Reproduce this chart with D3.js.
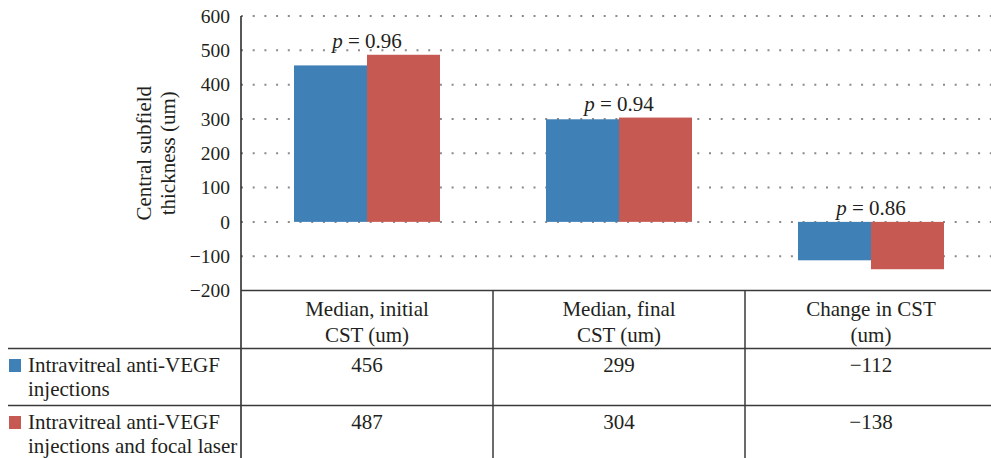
<!DOCTYPE html>
<html>
<head>
<meta charset="utf-8">
<script src="https://cdn.jsdelivr.net/npm/d3@7"></script>
<style>
  body { margin: 0; background: #fff; }
  text { font-family: "Liberation Serif", "DejaVu Serif", serif; fill: #231f20; }
</style>
</head>
<body>
<div id="chart"></div>
<script>
// Data
const categories = [["Median, initial", "CST (um)"], ["Median, final", "CST (um)"], ["Change in CST", "(um)"]];
const seriesNames = [["Intravitreal anti-VEGF", "injections"], ["Intravitreal anti-VEGF", "injections and focal laser"]];
const injections = [456, 299, -112];
const injectionsLaser = [487, 304, -138];
const pValues = ["0.96", "0.94", "0.86"];
const yTicks = [600, 500, 400, 300, 200, 100, 0, -100, -200];

const colors = ["#3f80b6", "#c65a52"];

const width = 991;
const height = 458;
const marginLeft = 241;
const marginTop = 16;
const axisBottom = 290.5;
const fontSize = 21;

const svg = d3.create("svg").attr("width", width).attr("height", height);

const keys = categories.map((d, i) => i);
const x = d3.scaleBand(keys, [marginLeft, marginLeft + 3 * 252]);
const xSub = d3.scaleBand([0, 1], [0, x.bandwidth()]).paddingOuter(0.726);
const y = d3.scaleLinear([-200, 600], [axisBottom, marginTop]);

// dotted gridlines
svg.append("g")
  .selectAll("line")
  .data(yTicks.filter(d => d > -200))
  .join("line")
  .attr("x1", marginLeft)
  .attr("x2", width)
  .attr("y1", d => y(d))
  .attr("y2", d => y(d))
  .attr("stroke", "#8a8a8a")
  .attr("stroke-width", 2)
  .attr("stroke-dasharray", "2,9.7");

// bars
const values = [injections, injectionsLaser];
const bars = [];
keys.forEach(i => values.forEach((s, j) => bars.push({ cat: i, s: j, v: s[i] })));

svg.append("g")
  .selectAll("rect")
  .data(bars)
  .join("rect")
  .attr("x", d => x(d.cat) + xSub(d.s))
  .attr("width", xSub.bandwidth())
  .attr("y", d => y(Math.max(0, d.v)))
  .attr("height", d => Math.abs(y(d.v) - y(0)))
  .attr("fill", d => colors[d.s]);

// p labels
const pl = svg.append("g")
  .selectAll("text")
  .data(keys)
  .join("text")
  .attr("x", d => x(d) + x.bandwidth() / 2)
  .attr("y", d => y(Math.max(0, injections[d], injectionsLaser[d])) - 7)
  .attr("text-anchor", "middle")
  .attr("font-size", fontSize);
pl.append("tspan").attr("font-style", "italic").text("p");
pl.append("tspan").text(d => " = " + pValues[d]);

// y axis
svg.append("g")
  .attr("transform", `translate(${marginLeft},0)`)
  .call(d3.axisLeft(y).tickValues(yTicks).tickSize(0).tickPadding(11)
    .tickFormat(d => d < 0 ? "\u2212" + Math.abs(d) : d))
  .call(g => g.select(".domain").remove())
  .call(g => g.selectAll("text")
    .attr("font-size", 19.5)
    .attr("font-family", "Liberation Serif, serif")
    .attr("fill", "#231f20"));

svg.append("line")
  .attr("x1", marginLeft).attr("x2", marginLeft)
  .attr("y1", marginTop).attr("y2", height)
  .attr("stroke", "#231f20").attr("stroke-width", 1.5);

// y axis title
svg.append("text")
  .attr("transform", `translate(151,${y(200)}) rotate(-90)`)
  .attr("text-anchor", "middle")
  .attr("font-size", fontSize)
  .selectAll("tspan")
  .data(["Central subfield", "thickness (um)"])
  .join("tspan")
  .attr("x", 0)
  .attr("dy", (d, i) => i === 0 ? 0 : 24)
  .text(d => d);

// table
const rowTop = [axisBottom, 348.5, 405.5];
const table = svg.append("g")
  .attr("stroke", "#3a3a3a")
  .attr("stroke-width", 1.5);
table.append("line").attr("x1", marginLeft).attr("x2", width).attr("y1", rowTop[0]).attr("y2", rowTop[0]);
table.selectAll(".hl")
  .data(rowTop.slice(1))
  .join("line")
  .attr("x1", 8).attr("x2", width)
  .attr("y1", d => d).attr("y2", d => d);
table.selectAll(".vl")
  .data(keys.slice(1))
  .join("line")
  .attr("x1", d => x(d)).attr("x2", d => x(d))
  .attr("y1", rowTop[0]).attr("y2", height);

// header cells
svg.append("g")
  .selectAll("text")
  .data(keys)
  .join("text")
  .attr("text-anchor", "middle")
  .attr("font-size", fontSize)
  .selectAll("tspan")
  .data(d => categories[d].map(t => ({ t, c: d })))
  .join("tspan")
  .attr("x", d => x(d.c) + x.bandwidth() / 2)
  .attr("y", (d, i) => 316 + i * 25.5)
  .text(d => d.t);

// series rows
seriesNames.forEach((name, j) => {
  const top = rowTop[j + 1];
  svg.append("rect")
    .attr("x", 9).attr("y", top + 10.5)
    .attr("width", 12).attr("height", 13)
    .attr("fill", colors[j]);
  svg.append("text")
    .attr("font-size", fontSize)
    .selectAll("tspan")
    .data(name)
    .join("tspan")
    .attr("x", 28)
    .attr("y", (d, i) => top + 23 + i * 24.5)
    .text(d => d);
  svg.append("g")
    .selectAll("text")
    .data(values[j])
    .join("text")
    .attr("x", (d, i) => x(i) + x.bandwidth() / 2)
    .attr("y", top + 23.5)
    .attr("text-anchor", "middle")
    .attr("font-size", fontSize)
    .text(d => d < 0 ? "\u2212" + Math.abs(d) : d);
});

d3.select("#chart").node().appendChild(svg.node());
</script>
</body>
</html>
